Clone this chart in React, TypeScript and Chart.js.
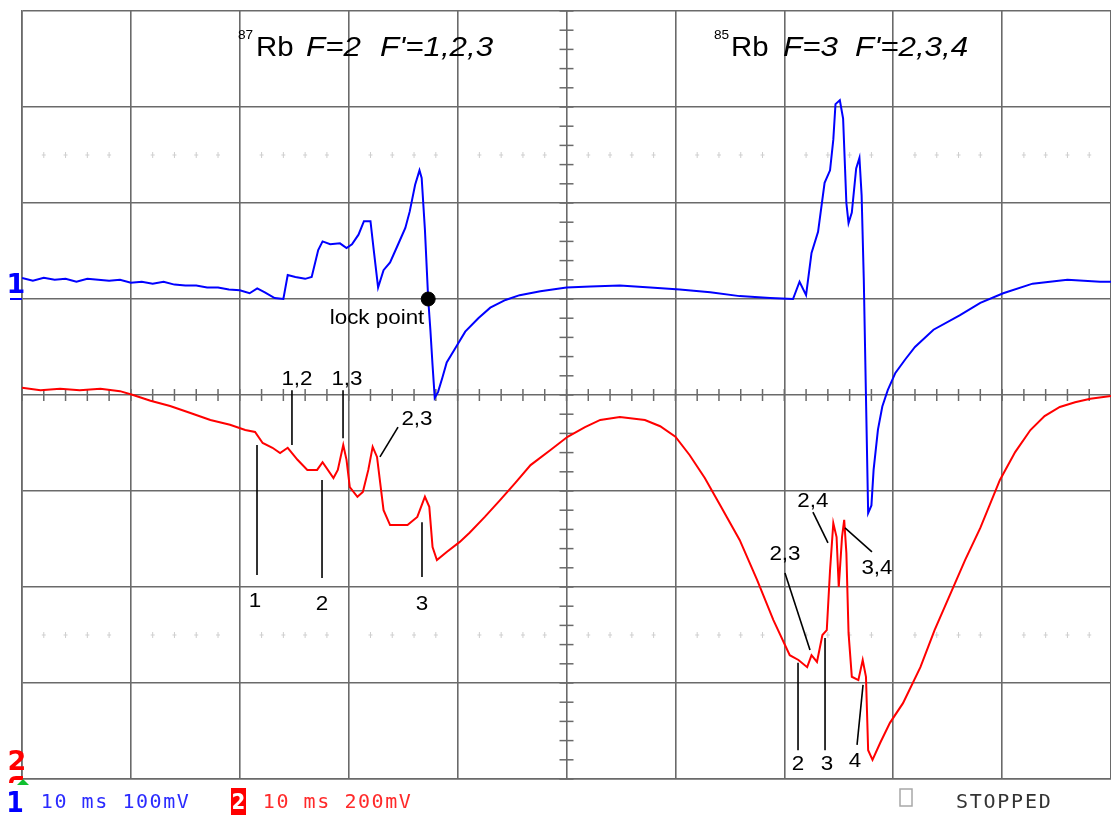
import React, { useEffect, useRef } from "react";
import { Chart, registerables } from "chart.js";

Chart.register(...registerables);

// ---- Channel 1 (blue, 100 mV/div, ground at 5th division from bottom) ----
const CH1_TIME_MS = [
  0, 1, 2, 3, 4, 5, 6, 7, 8, 9, 10, 11, 12, 13, 14, 15, 16, 17, 18, 19, 20, 20.9, 21.6, 22.3, 23.2, 24.0,
  24.4, 25.1, 26.0, 26.6, 27.2, 27.6, 28.3, 29.2, 29.8, 30.3, 30.9, 31.4, 32.0, 32.3, 32.7, 33.2, 33.8,
  34.5, 35.2, 35.6, 36.1, 36.5, 36.7, 37.0, 37.3, 37.5, 37.7, 37.9, 38.2, 38.6, 39.0, 39.8, 40.7, 41.9,
  43.0, 44.4, 45.7, 47.6, 50.0, 52.2, 54.9, 57.7, 60.4, 63.2, 65.9, 68.7, 70.8, 71.4, 72.0, 72.5, 73.1,
  73.7, 74.2, 74.5, 74.7, 75.1, 75.4, 75.7, 75.9, 76.2, 76.6, 76.9, 77.1, 77.3, 77.5, 77.7, 78.0, 78.2,
  78.6, 79.0, 79.5, 80.2, 81.1, 82.0, 83.7, 86.1, 88.0, 90.1, 92.8, 96.0, 99.0, 100,
];
const CH1_MV = [
  22, 19, 22, 20, 21, 18, 21, 20, 19, 20, 17, 18, 16, 18, 15, 14, 14, 12, 12, 10, 9, 6, 11, 7, 1, 0,
  25, 23, 21, 23, 51, 60, 57, 58, 53, 57, 67, 81, 81, 51, 12, 30, 38,
  56, 74, 91, 119, 134, 126, 72, 0, -32, -69, -103, -97, -82, -66, -51, -34, -20,
  -9, -1, 4, 8, 12, 13, 14, 12, 10, 7, 3, 1, 0, 18, 4, 48, 70,
  121, 134, 166, 203, 207, 188, 100, 79, 90, 136, 147, 108, 20, -102, -223, -215, -178,
  -136, -112, -95, -77, -63, -50, -32, -17, -4, 6, 16, 20, 18, 18,
];

// ---- Channel 2 (red, 200 mV/div, ground at bottom) ----
const CH2_TIME_MS = [
  0, 1.7, 3.5, 5.3, 7.2, 9.0, 10.2, 11.8, 13.6, 15.4, 17.3, 19.1, 20.5, 21.4, 22.1, 23.0, 23.7, 24.4,
  25.3, 26.2, 27.1, 27.6, 28.6, 29.0, 29.5, 29.8, 30.1, 30.8, 31.3, 31.8, 32.2, 32.6, 33.2, 33.8, 35.4,
  36.3, 37.0, 37.4, 37.7, 38.1, 39.0, 40.2, 41.1, 42.5, 43.9, 45.3, 46.7, 48.5, 50.1, 51.7, 53.1, 54.9,
  57.2, 58.6, 60.0, 61.3, 62.7, 64.1, 65.9, 67.5, 69.0, 70.5, 71.3, 72.1, 72.5, 73.0, 73.5, 73.9, 74.2,
  74.5, 74.8, 75.0, 75.3, 75.5, 75.7, 75.9, 76.2, 76.8, 77.2, 77.5, 77.7, 78.1, 78.8, 79.7, 80.9, 82.5,
  83.8, 85.2, 86.6, 88.0, 89.8, 91.2, 92.6, 93.9, 95.3, 96.7, 98.1, 100,
];
const CH2_MV = [
  815, 810, 813, 810, 813, 808, 800, 788, 777, 763, 748, 738, 727, 723, 700, 690, 679, 690,
  665, 644, 644, 660, 627, 644, 696, 665, 608, 588, 598, 644, 692, 671, 560, 529, 529,
  546, 588, 567, 483, 456, 473, 494, 513, 546, 581, 617, 654, 685, 713, 733, 748, 754,
  748, 735, 713, 675, 627, 571, 498, 415, 331, 258, 248, 233, 258, 244, 300, 310, 435,
  533, 504, 400, 504, 540, 471, 304, 213, 206, 248, 213, 60, 40, 75, 117, 158, 233,
  310, 383, 456, 523, 623, 681, 727, 756, 775, 785, 792, 798,
];

const LOCK_POINT_MS = [37.3];
const LOCK_POINT_MV = [0];

// annotation labels placed on the channel-2 scale (ms, mV)
const LABEL_TEXT = ["1", "1,2", "1,3", "2", "2,3", "3", "lock point", "2,3", "2,4", "3,4", "2", "3", "4"];
const LABEL_MS = [21.4, 25.25, 29.84, 27.55, 36.27, 36.73, 32.6, 70.06, 72.63, 78.51, 71.26, 73.92, 76.49];
const LABEL_MV = [373, 835, 835, 367, 752, 367, 962, 471, 581, 442, 33, 33, 40];

// leader lines: [ms1, mV1, ms2, mV2] on the channel-2 scale
const LEADERS = [
  [21.58, 696, 21.58, 425],
  [24.79, 810, 24.79, 696],
  [29.48, 810, 29.48, 710],
  [27.55, 623, 27.55, 419],
  [34.53, 733, 32.87, 671],
  [36.73, 535, 36.73, 421],
  [70.06, 429, 72.36, 269],
  [72.63, 556, 74.01, 492],
  [78.05, 473, 75.57, 523],
  [71.26, 242, 71.26, 60],
  [73.74, 294, 73.74, 60],
  [77.23, 196, 76.68, 71],
];

const GRID = "#6a6a6a";
const BLUE = "#0000ff";
const RED = "#ff0000";

function drawStretched(ctx: CanvasRenderingContext2D, text: string, x: number, y: number, font: string, color: string, align: CanvasTextAlign, sx: number) {
  ctx.save();
  ctx.font = font;
  ctx.fillStyle = color;
  ctx.textAlign = align;
  ctx.textBaseline = "alphabetic";
  ctx.translate(x, y);
  ctx.scale(sx, 1);
  ctx.fillText(text, 0, 0);
  ctx.restore();
}

function drawMono(ctx: CanvasRenderingContext2D, text: string, x0: number, y: number, adv: number, color: string) {
  ctx.save();
  ctx.font = '20px "DejaVu Sans Mono", monospace';
  ctx.fillStyle = color;
  ctx.textAlign = "center";
  ctx.textBaseline = "alphabetic";
  for (let i = 0; i < text.length; i++) {
    ctx.fillText(text[i], x0 + adv * i + adv / 2, y);
  }
  ctx.restore();
}

const overlay = {
  id: "overlay",
  beforeDatasetsDraw(chart: any) {
    const { ctx, scales } = chart;
    const x = scales.x;
    const y1 = scales.y1;
    ctx.save();
    // faint ghost crosses
    ctx.strokeStyle = "#cfcfcf";
    ctx.lineWidth = 1;
    for (const lv of [150, -350]) {
      const py = y1.getPixelForValue(lv);
      for (let t = 0; t <= 100; t += 2) {
        if (t % 10 === 0) continue;
        const px = x.getPixelForValue(t);
        ctx.beginPath();
        ctx.moveTo(px - 2, py);
        ctx.lineTo(px + 2, py);
        ctx.moveTo(px, py - 3);
        ctx.lineTo(px, py + 3);
        ctx.stroke();
      }
    }
    // center axis ticks
    ctx.strokeStyle = GRID;
    ctx.lineWidth = 1.5;
    const cx = x.getPixelForValue(50);
    const cy = y1.getPixelForValue(-100);
    for (let v = -500; v <= 300; v += 20) {
      const py = y1.getPixelForValue(v);
      ctx.beginPath();
      ctx.moveTo(cx - 7, py);
      ctx.lineTo(cx + 7, py);
      ctx.stroke();
    }
    for (let t = 0; t <= 100; t += 2) {
      const px = x.getPixelForValue(t);
      ctx.beginPath();
      ctx.moveTo(px, cy - 6);
      ctx.lineTo(px, cy + 6);
      ctx.stroke();
    }
    ctx.restore();
  },
  afterDatasetsDraw(chart: any) {
    const { ctx, scales } = chart;
    const x = scales.x;
    const y1 = scales.y1;
    const y2 = scales.y2;
    ctx.save();

    // leader lines
    ctx.strokeStyle = "#000";
    ctx.lineWidth = 1.6;
    for (const [t1, v1, t2, v2] of LEADERS) {
      ctx.beginPath();
      ctx.moveTo(x.getPixelForValue(t1), y2.getPixelForValue(v1));
      ctx.lineTo(x.getPixelForValue(t2), y2.getPixelForValue(v2));
      ctx.stroke();
    }
    // labels
    for (let i = 0; i < LABEL_TEXT.length; i++) {
      const px = x.getPixelForValue(LABEL_MS[i]);
      const py = y2.getPixelForValue(LABEL_MV[i]);
      drawStretched(ctx, LABEL_TEXT[i], px, py + 7, '20px "Liberation Sans", Arial, sans-serif', "#000", "center", 1.12);
    }

    // titles
    const tf = '28px "Liberation Sans", Arial, sans-serif';
    const tfi = 'italic 28px "Liberation Sans", Arial, sans-serif';
    const sf = '13px "Liberation Sans", Arial, sans-serif';
    drawStretched(ctx, "87", 238, 39, sf, "#000", "left", 1.05);
    drawStretched(ctx, "Rb", 256, 56, tf, "#000", "left", 1.05);
    drawStretched(ctx, "F=2", 306, 56, tfi, "#000", "left", 1.12);
    drawStretched(ctx, "F'=1,2,3", 380, 56, tfi, "#000", "left", 1.12);
    drawStretched(ctx, "85", 714, 39, sf, "#000", "left", 1.05);
    drawStretched(ctx, "Rb", 731, 56, tf, "#000", "left", 1.05);
    drawStretched(ctx, "F=3", 783, 56, tfi, "#000", "left", 1.12);
    drawStretched(ctx, "F'=2,3,4", 855, 56, tfi, "#000", "left", 1.12);

    // channel 1 ground marker
    const g1 = y1.getPixelForValue(0);
    ctx.fillStyle = BLUE;
    ctx.font = 'bold 27px "DejaVu Sans", sans-serif';
    ctx.textAlign = "center";
    ctx.fillText("1", 16, g1 - 6);
    ctx.fillRect(10, g1 - 1, 12, 2);

    // channel 2 ground marker
    const g2 = y2.getPixelForValue(0);
    ctx.fillStyle = RED;
    ctx.fillText("2", 17, g2 - 9);
    ctx.beginPath();
    ctx.moveTo(9, g2 + 4);
    ctx.quadraticCurveTo(9, g2 - 3, 16, g2 - 3);
    ctx.lineTo(23, g2 - 3);
    ctx.lineTo(23, g2 + 1);
    ctx.lineTo(14, g2 + 1);
    ctx.lineTo(13, g2 + 4);
    ctx.closePath();
    ctx.fill();
    // trigger marker
    ctx.fillStyle = "#10c030";
    ctx.beginPath();
    ctx.moveTo(17, g2 + 6);
    ctx.lineTo(29, g2 + 6);
    ctx.lineTo(23, g2);
    ctx.closePath();
    ctx.fill();

    // status bar
    ctx.fillStyle = BLUE;
    ctx.font = 'bold 28px "DejaVu Sans Condensed", sans-serif';
    ctx.textAlign = "center";
    ctx.fillText("1", 15, 812);
    drawMono(ctx, "10 ms 100mV", 40, 808, 13.6, "#2b2bff");
    ctx.fillStyle = RED;
    ctx.fillRect(231, 788, 15, 27);
    ctx.fillStyle = "#fff";
    ctx.font = 'bold 22px "DejaVu Sans Condensed", sans-serif';
    ctx.fillText("2", 238.5, 809);
    drawMono(ctx, "10 ms 200mV", 262, 808, 13.6, "#ff2a2a");
    ctx.strokeStyle = "#a8a8a8";
    ctx.lineWidth = 1.5;
    ctx.strokeRect(900, 789, 12, 17);
    drawMono(ctx, "STOPPED", 955, 808, 13.8, "#333");

    ctx.restore();
  },
};

export default function App() {
  const ref = useRef<HTMLCanvasElement>(null);
  useEffect(() => {
    const canvas = ref.current;
    if (!canvas) return;
    const ch1 = CH1_TIME_MS.map((t, i) => ({ x: t, y: CH1_MV[i] }));
    const ch2 = CH2_TIME_MS.map((t, i) => ({ x: t, y: CH2_MV[i] }));
    const lock = LOCK_POINT_MS.map((t, i) => ({ x: t, y: LOCK_POINT_MV[i] }));
    const chart = new Chart(canvas, {
      type: "line",
      data: {
        datasets: [
          {
            label: "lock",
            data: lock,
            yAxisID: "y1",
            showLine: false,
            pointRadius: 7,
            pointBackgroundColor: "#000",
            pointBorderColor: "#000",
            order: 0,
          },
          {
            label: "CH1",
            data: ch1,
            yAxisID: "y1",
            borderColor: BLUE,
            borderWidth: 2,
            pointRadius: 0,
            tension: 0,
            order: 1,
          },
          {
            label: "CH2",
            data: ch2,
            yAxisID: "y2",
            borderColor: RED,
            borderWidth: 2,
            pointRadius: 0,
            tension: 0,
            order: 2,
          },
        ] as any,
      },
      options: {
        animation: false,
        responsive: false,
        devicePixelRatio: 1,
        layout: { autoPadding: false, padding: { left: 22, top: 11, right: 0, bottom: 37 } },
        plugins: { legend: { display: false }, tooltip: { enabled: false } },
        scales: {
          x: {
            type: "linear",
            min: 0,
            max: 100,
            ticks: { display: false, stepSize: 10 },
            grid: { color: GRID, lineWidth: 1.6, drawTicks: false },
            border: { display: true, color: GRID, width: 1.6 },
            afterFit: (s: any) => { s.height = 0; },
          },
          y1: {
            type: "linear",
            position: "left",
            min: -500,
            max: 300,
            ticks: { display: false, stepSize: 100 },
            grid: { color: GRID, lineWidth: 1.6, drawTicks: false },
            border: { display: true, color: GRID, width: 1.6 },
            afterFit: (s: any) => { s.width = 0; },
          },
          y2: {
            type: "linear",
            position: "right",
            min: 0,
            max: 1600,
            display: false,
          },
        },
      } as any,
      plugins: [overlay],
    });
    return () => chart.destroy();
  }, []);
  return (
    <div style={{ position: "fixed", left: 0, top: 0, width: 1111, height: 816, background: "#fff" }}>
      <canvas ref={ref} width={1111} height={816} style={{ display: "block" }} />
    </div>
  );
}
